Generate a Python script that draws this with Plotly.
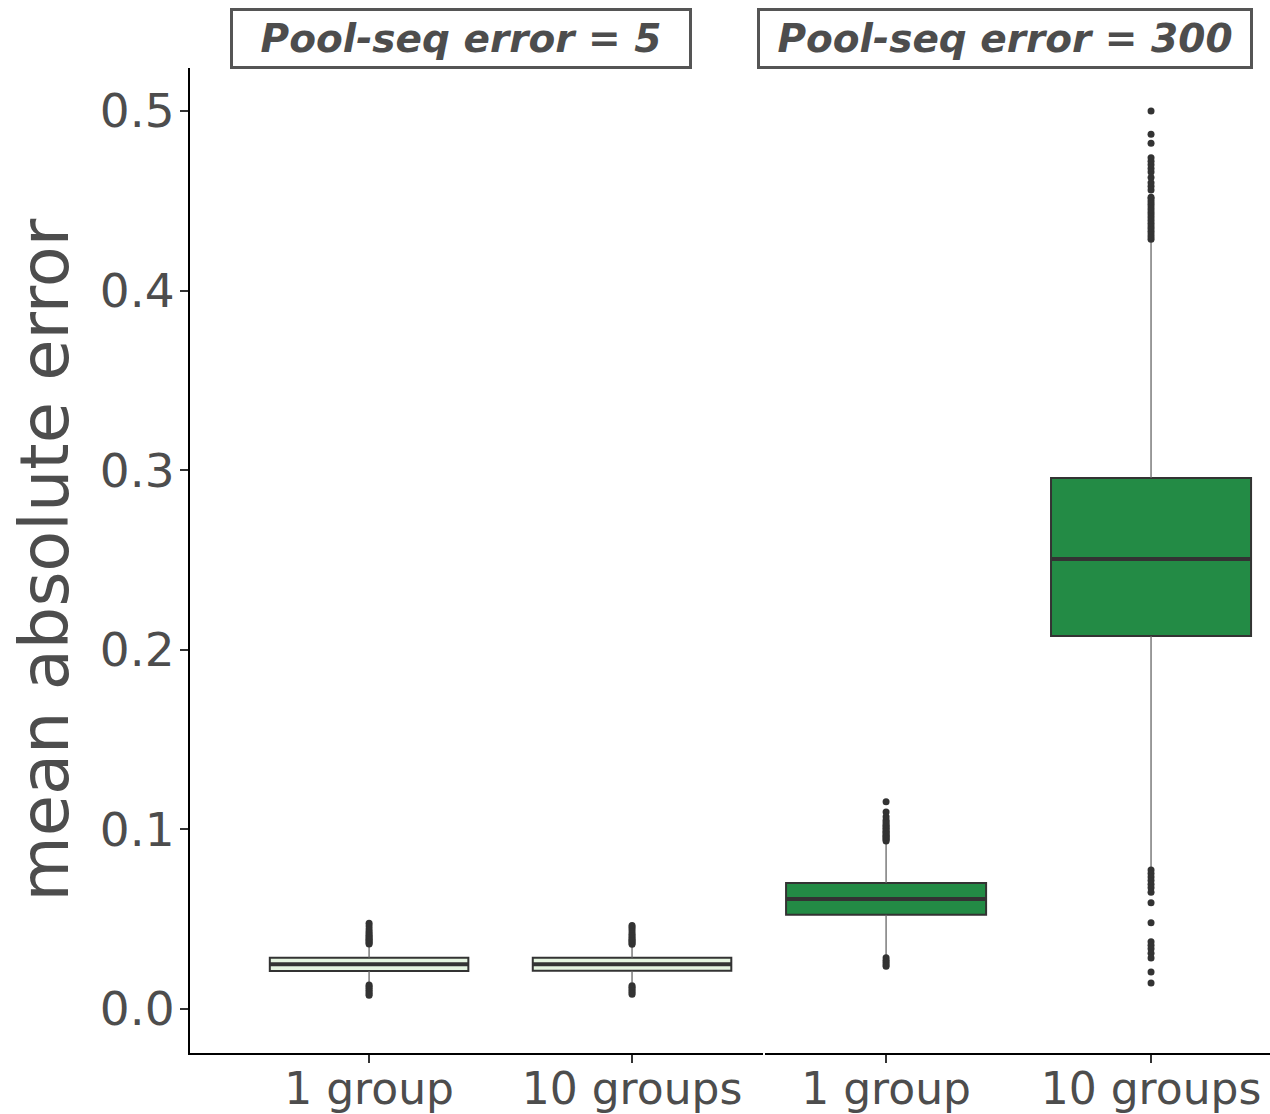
import plotly.graph_objects as go

# Facet labels and group labels
panel_titles = ["Pool-seq error = 5", "Pool-seq error = 300"]
group_labels = ["1 group", "10 groups"]
group_pos = [0, 1]

# Box statistics per panel (1 group, 10 groups)
q1 = [[0.0212, 0.0213], [0.0525, 0.2077]]
median = [[0.0249, 0.0249], [0.0612, 0.2506]]
q3 = [[0.0286, 0.0285], [0.0702, 0.2957]]
lower_fence = [[0.0145, 0.0146], [0.0300, 0.0789]]
upper_fence = [[0.0356, 0.0355], [0.0932, 0.4273]]

# Outlying values per panel and group
outliers = [
    [
        [0.0362, 0.0368, 0.0375, 0.0382, 0.0388, 0.0395, 0.0402, 0.0410, 0.0420,
         0.0432, 0.0445, 0.0462, 0.0478, 0.0134, 0.0125, 0.0115, 0.0105, 0.0095,
         0.0085, 0.0076],
        [0.0361, 0.0367, 0.0374, 0.0381, 0.0389, 0.0397, 0.0406, 0.0416, 0.0428,
         0.0442, 0.0455, 0.0465, 0.0130, 0.0121, 0.0112, 0.0102, 0.0092, 0.0082],
    ],
    [
        [0.0936, 0.0942, 0.0948, 0.0955, 0.0962, 0.0968, 0.0975, 0.0982, 0.0990,
         0.0998, 0.1006, 0.1014, 0.1022, 0.1032, 0.1042, 0.1052, 0.1070, 0.1097,
         0.1154, 0.0285, 0.0272, 0.0260, 0.0248, 0.0238],
        [0.4285, 0.4300, 0.4315, 0.4330, 0.4345, 0.4360, 0.4375, 0.4390, 0.4405,
         0.4420, 0.4435, 0.4450, 0.4465, 0.4480, 0.4495, 0.4510, 0.4520, 0.4560,
         0.4580, 0.4600, 0.4630, 0.4660, 0.4680, 0.4700, 0.4720, 0.4740, 0.4820,
         0.4870, 0.5000, 0.0774, 0.0755, 0.0735, 0.0715, 0.0695, 0.0675, 0.0650,
         0.0592, 0.0480, 0.0375, 0.0355, 0.0335, 0.0310, 0.0284, 0.0206, 0.0145],
    ],
]

panel_fill = ["#e5f5e0", "#238b45"]
box_width = 0.755
dark = "#333333"
text_grey = "#4d4d4d"

fig = go.Figure()

for p in range(2):
    xa = "x" if p == 0 else "x2"
    ya = "y" if p == 0 else "y2"
    for g, x0 in enumerate(group_pos):
        # whiskers
        fig.add_trace(go.Scatter(
            x=[x0, x0, None, x0, x0],
            y=[q3[p][g], upper_fence[p][g], None, q1[p][g], lower_fence[p][g]],
            mode="lines", line=dict(color="#666666", width=1.3),
            xaxis=xa, yaxis=ya, showlegend=False, hoverinfo="skip"))
        # box body
        fig.add_trace(go.Box(
            x=[x0], q1=[q1[p][g]], median=[median[p][g]], q3=[q3[p][g]],
            lowerfence=[q1[p][g]], upperfence=[q3[p][g]],
            width=box_width, whiskerwidth=0, boxpoints=False,
            fillcolor=panel_fill[p], line=dict(color=dark, width=2),
            xaxis=xa, yaxis=ya, showlegend=False))
        # thick median bar
        fig.add_trace(go.Scatter(
            x=[x0 - box_width / 2, x0 + box_width / 2],
            y=[median[p][g], median[p][g]],
            mode="lines", line=dict(color=dark, width=4),
            xaxis=xa, yaxis=ya, showlegend=False, hoverinfo="skip"))
        # outlying points
        fig.add_trace(go.Scatter(
            x=[x0] * len(outliers[p][g]), y=outliers[p][g],
            mode="markers", marker=dict(color=dark, size=7),
            xaxis=xa, yaxis=ya, showlegend=False))

W, H = 1270, 1114
ml, mr, mt, mb = 190, 0, 68, 61
plot_w = W - ml - mr
plot_h = H - mt - mb

def px_x(px):
    return (px - ml) / plot_w

def px_y(py):
    return 1 - (py - mt) / plot_h

xtick_font = dict(family="DejaVu Sans", size=44, color=text_grey)
ytick_font = dict(family="DejaVu Sans", size=47, color=text_grey)
xaxis_common = dict(
    tickmode="array", tickvals=group_pos, ticktext=group_labels,
    showline=True, linecolor="black", linewidth=2,
    ticks="outside", ticklen=8, tickcolor=dark, tickwidth=1.5,
    showgrid=False, zeroline=False, tickfont=xtick_font, fixedrange=True,
    automargin=False, ticklabelstandoff=-12,
)

fig.update_layout(
    width=W, height=H,
    margin=dict(l=ml, r=mr, t=mt, b=mb, autoexpand=False),
    plot_bgcolor="white", paper_bgcolor="white",
    xaxis=dict(domain=[0, px_x(763)], range=[-0.681, 1.498], **xaxis_common),
    xaxis2=dict(domain=[px_x(765), 1], range=[-0.457, 1.449], **xaxis_common),
    yaxis=dict(
        range=[-0.0245, 0.5239], tickmode="array",
        tickvals=[0.0, 0.1, 0.2, 0.3, 0.4, 0.5],
        ticktext=["0.0", "0.1", "0.2", "0.3", "0.4", "0.5"],
        showline=True, linecolor="black", linewidth=2,
        ticks="outside", ticklen=8, tickcolor=dark, tickwidth=1.5,
        showgrid=False, zeroline=False, tickfont=ytick_font, automargin=False,
        ticklabelstandoff=-4,
    ),
    yaxis2=dict(
        range=[-0.0245, 0.5239], anchor="x2", matches="y",
        showline=False, showticklabels=False, ticks="",
        showgrid=False, zeroline=False, automargin=False,
    ),
    showlegend=False,
)

# facet strip labels
strip_font = dict(family="DejaVu Sans", size=39, color=text_grey)
strip_specs = [(460.5, 456), (1005.5, 490)]
for title, (cx, w) in zip(panel_titles, strip_specs):
    fig.add_annotation(
        x=px_x(cx), y=px_y(38.5), xref="paper", yref="paper",
        text=f"<b><i>{title}</i></b>", showarrow=False,
        font=strip_font, bordercolor="#555555", borderwidth=3, borderpad=0,
        width=w, height=55, bgcolor="white", xanchor="center", yanchor="middle")

# y-axis title
fig.add_annotation(
    x=px_x(44), y=0.5, xref="paper", yref="paper",
    text="mean absolute error", textangle=-90, showarrow=False,
    font=dict(family="DejaVu Sans", size=67, color=text_grey),
    xanchor="center", yanchor="middle")

fig.write_html("out.html")
